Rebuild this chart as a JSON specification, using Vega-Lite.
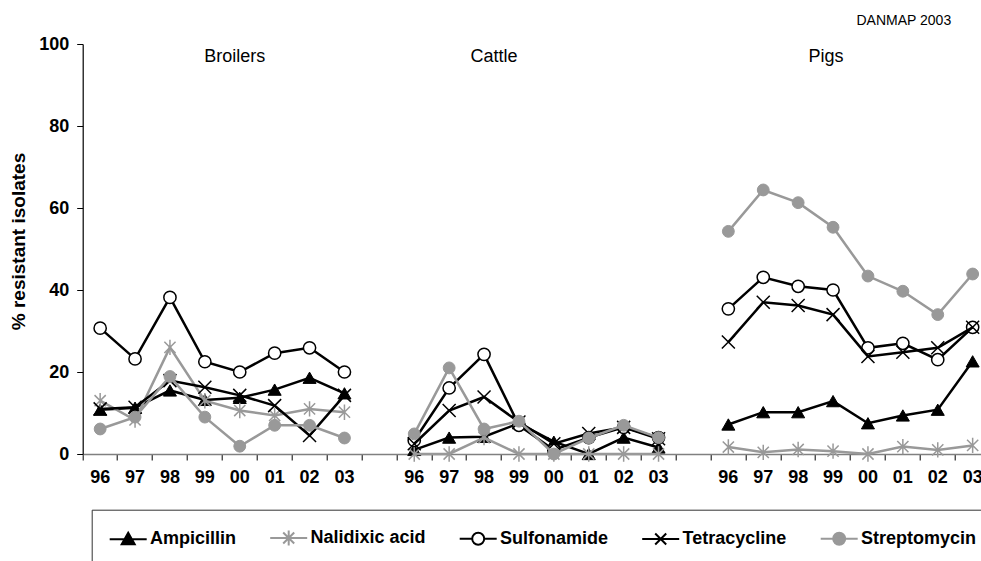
{
  "$schema": "https://vega.github.io/schema/vega-lite/v6.json",
  "width": 907.4,
  "height": 410,
  "autosize": {"type": "none"},
  "padding": {"left": 82.7, "top": 44, "right": -9.1, "bottom": 107},
  "background": "white",
  "config": {
    "view": {"stroke": null},
    "font": "Liberation Sans",
    "axisX": {
      "domainColor": "#808080",
      "domainWidth": 1.5,
      "tickColor": "#000000",
      "tickWidth": 1,
      "tickSize": 6,
      "labelFont": "Liberation Sans",
      "labelFontSize": 18,
      "labelFontWeight": "bold",
      "labelColor": "#000000",
      "labelPadding": 8,
      "labelAngle": 0,
      "grid": false
    },
    "axisY": {
      "domainColor": "#000000",
      "domainWidth": 1.2,
      "tickColor": "#000000",
      "tickWidth": 1,
      "tickSize": 6,
      "labelFont": "Liberation Sans",
      "labelFontSize": 18,
      "labelFontWeight": "bold",
      "labelColor": "#000000",
      "labelPadding": 8,
      "titleFont": "Liberation Sans",
      "titleFontSize": 19,
      "titleFontWeight": "bold",
      "titleColor": "#000000",
      "titlePadding": 10,
      "titleY": 197,
      "grid": false
    },
    "legend": {
      "orient": "none",
      "legendX": 9,
      "legendY": 465.7,
      "direction": "horizontal",
      "strokeColor": "#333333",
      "padding": 17,
      "columnPadding": 29.5,
      "symbolSize": 400,
      "symbolStrokeWidth": 2,
      "symbolOpacity": 1,
      "symbolFillColor": "#000000",
      "symbolStrokeColor": "#000000",
      "labelFont": "Liberation Sans",
      "labelFontSize": 18,
      "labelFontWeight": "bold",
      "labelColor": "#000000",
      "labelOffset": 19.3,
      "labelLimit": 0
    }
  },
  "data": {
    "values": [
      {"host": "Broilers", "slot": "Broilers 1996", "Ampicillin": 10.8, "Nalidixic acid": 13.0, "Sulfonamide": 30.7, "Tetracycline": 11.0, "Streptomycin": 6.1},
      {"host": "Broilers", "slot": "Broilers 1997", "Ampicillin": 11.3, "Nalidixic acid": 8.3, "Sulfonamide": 23.2, "Tetracycline": 11.4, "Streptomycin": 9.0},
      {"host": "Broilers", "slot": "Broilers 1998", "Ampicillin": 15.5, "Nalidixic acid": 26.0, "Sulfonamide": 38.2, "Tetracycline": 17.9, "Streptomycin": 18.9},
      {"host": "Broilers", "slot": "Broilers 1999", "Ampicillin": 13.2, "Nalidixic acid": 13.0, "Sulfonamide": 22.5, "Tetracycline": 16.3, "Streptomycin": 9.0},
      {"host": "Broilers", "slot": "Broilers 2000", "Ampicillin": 13.7, "Nalidixic acid": 10.6, "Sulfonamide": 20.0, "Tetracycline": 14.3, "Streptomycin": 1.9},
      {"host": "Broilers", "slot": "Broilers 2001", "Ampicillin": 15.7, "Nalidixic acid": 9.4, "Sulfonamide": 24.6, "Tetracycline": 11.8, "Streptomycin": 7.0},
      {"host": "Broilers", "slot": "Broilers 2002", "Ampicillin": 18.6, "Nalidixic acid": 11.0, "Sulfonamide": 25.9, "Tetracycline": 4.5, "Streptomycin": 7.0},
      {"host": "Broilers", "slot": "Broilers 2003", "Ampicillin": 14.8, "Nalidixic acid": 10.2, "Sulfonamide": 20.0, "Tetracycline": 14.3, "Streptomycin": 3.9},
      {"host": "Cattle", "slot": "Cattle 1996", "Ampicillin": 1.0, "Nalidixic acid": 0, "Sulfonamide": 3.3, "Tetracycline": 2.5, "Streptomycin": 4.9},
      {"host": "Cattle", "slot": "Cattle 1997", "Ampicillin": 4.0, "Nalidixic acid": 0, "Sulfonamide": 16.1, "Tetracycline": 10.6, "Streptomycin": 21.0},
      {"host": "Cattle", "slot": "Cattle 1998", "Ampicillin": 4.2, "Nalidixic acid": 4.0, "Sulfonamide": 24.3, "Tetracycline": 13.9, "Streptomycin": 6.1},
      {"host": "Cattle", "slot": "Cattle 1999", "Ampicillin": 7.5, "Nalidixic acid": 0, "Sulfonamide": 7.0, "Tetracycline": 7.8, "Streptomycin": 8.0},
      {"host": "Cattle", "slot": "Cattle 2000", "Ampicillin": 3.0, "Nalidixic acid": 0, "Sulfonamide": 1.0, "Tetracycline": 2.5, "Streptomycin": 0},
      {"host": "Cattle", "slot": "Cattle 2001", "Ampicillin": 0, "Nalidixic acid": 0, "Sulfonamide": 4.0, "Tetracycline": 5.0, "Streptomycin": 3.9},
      {"host": "Cattle", "slot": "Cattle 2002", "Ampicillin": 4.0, "Nalidixic acid": 0, "Sulfonamide": 6.5, "Tetracycline": 6.5, "Streptomycin": 7.0},
      {"host": "Cattle", "slot": "Cattle 2003", "Ampicillin": 1.6, "Nalidixic acid": 0, "Sulfonamide": 4.0, "Tetracycline": 3.7, "Streptomycin": 4.0},
      {"host": "Pigs", "slot": "Pigs 1996", "Ampicillin": 7.2, "Nalidixic acid": 1.7, "Sulfonamide": 35.4, "Tetracycline": 27.3, "Streptomycin": 54.3},
      {"host": "Pigs", "slot": "Pigs 1997", "Ampicillin": 10.2, "Nalidixic acid": 0.4, "Sulfonamide": 43.1, "Tetracycline": 37.0, "Streptomycin": 64.4},
      {"host": "Pigs", "slot": "Pigs 1998", "Ampicillin": 10.2, "Nalidixic acid": 1.1, "Sulfonamide": 40.9, "Tetracycline": 36.2, "Streptomycin": 61.3},
      {"host": "Pigs", "slot": "Pigs 1999", "Ampicillin": 12.9, "Nalidixic acid": 0.7, "Sulfonamide": 40.0, "Tetracycline": 34.0, "Streptomycin": 55.3},
      {"host": "Pigs", "slot": "Pigs 2000", "Ampicillin": 7.5, "Nalidixic acid": 0, "Sulfonamide": 25.9, "Tetracycline": 23.8, "Streptomycin": 43.4},
      {"host": "Pigs", "slot": "Pigs 2001", "Ampicillin": 9.4, "Nalidixic acid": 1.8, "Sulfonamide": 27.0, "Tetracycline": 24.8, "Streptomycin": 39.7},
      {"host": "Pigs", "slot": "Pigs 2002", "Ampicillin": 10.8, "Nalidixic acid": 1.0, "Sulfonamide": 23.0, "Tetracycline": 25.9, "Streptomycin": 34.0},
      {"host": "Pigs", "slot": "Pigs 2003", "Ampicillin": 22.6, "Nalidixic acid": 2.1, "Sulfonamide": 30.9, "Tetracycline": 30.9, "Streptomycin": 43.9}
    ]
  },
  "transform": [
    {"fold": ["Ampicillin", "Nalidixic acid", "Sulfonamide", "Tetracycline", "Streptomycin"], "as": ["drug", "pct"]}
  ],
  "encoding": {
    "x": {
      "field": "slot",
      "type": "ordinal",
      "scale": {
        "type": "band",
        "paddingInner": 0,
        "paddingOuter": 0,
        "domain": [
          "Broilers 1996", "Broilers 1997", "Broilers 1998", "Broilers 1999", "Broilers 2000", "Broilers 2001", "Broilers 2002", "Broilers 2003",
          "gap 1",
          "Cattle 1996", "Cattle 1997", "Cattle 1998", "Cattle 1999", "Cattle 2000", "Cattle 2001", "Cattle 2002", "Cattle 2003",
          "gap 2",
          "Pigs 1996", "Pigs 1997", "Pigs 1998", "Pigs 1999", "Pigs 2000", "Pigs 2001", "Pigs 2002", "Pigs 2003"
        ]
      },
      "axis": {
        "title": null,
        "bandPosition": 0,
        "labelExpr": "test(/gap/, datum.value) ? '' : slice(datum.value, -2)"
      }
    },
    "y": {
      "field": "pct",
      "type": "quantitative",
      "scale": {"domain": [0, 100], "nice": false, "zero": true},
      "axis": {"title": "% resistant isolates", "values": [0, 20, 40, 60, 80, 100]}
    }
  },
  "layer": [
    {
      "transform": [{"filter": {"field": "drug", "equal": "Ampicillin"}}],
      "layer": [
        {"mark": {"type": "line", "color": "#000000", "strokeWidth": 2.5}, "encoding": {"detail": {"field": "host"}}},
        {"mark": {"type": "point", "shape": "triangle-up", "filled": true, "fill": "#000000", "stroke": "#000000", "strokeWidth": 1, "size": 170, "opacity": 1}}
      ]
    },
    {
      "transform": [{"filter": {"field": "drug", "equal": "Nalidixic acid"}}],
      "layer": [
        {"mark": {"type": "line", "color": "#999999", "strokeWidth": 2.5}, "encoding": {"detail": {"field": "host"}}},
        {"mark": {"type": "point", "shape": "M-0.8,-0.8L0.8,0.8M-0.8,0.8L0.8,-0.8M0,-1.1V1.1", "filled": false, "stroke": "#999999", "strokeWidth": 1.5, "size": 196, "opacity": 1}}
      ]
    },
    {
      "transform": [{"filter": {"field": "drug", "equal": "Sulfonamide"}}],
      "layer": [
        {"mark": {"type": "line", "color": "#000000", "strokeWidth": 2.5}, "encoding": {"detail": {"field": "host"}}},
        {"mark": {"type": "point", "shape": "circle", "filled": true, "fill": "#ffffff", "stroke": "#000000", "strokeWidth": 1.5, "size": 150, "opacity": 1}}
      ]
    },
    {
      "transform": [{"filter": {"field": "drug", "equal": "Tetracycline"}}],
      "layer": [
        {"mark": {"type": "line", "color": "#000000", "strokeWidth": 2.5}, "encoding": {"detail": {"field": "host"}}},
        {"mark": {"type": "point", "shape": "M-1,-1L1,1M-1,1L1,-1", "filled": false, "stroke": "#000000", "strokeWidth": 1.5, "size": 169, "opacity": 1}}
      ]
    },
    {
      "transform": [{"filter": {"field": "drug", "equal": "Streptomycin"}}],
      "layer": [
        {"mark": {"type": "line", "color": "#999999", "strokeWidth": 2.5}, "encoding": {"detail": {"field": "host"}}},
        {"mark": {"type": "point", "shape": "circle", "filled": true, "fill": "#999999", "stroke": "#999999", "strokeWidth": 1, "size": 140, "opacity": 1}}
      ]
    },
    {
      "mark": {"type": "point", "opacity": 0, "strokeWidth": 2},
      "encoding": {
        "shape": {
          "field": "drug",
          "type": "nominal",
          "scale": {
            "domain": ["Ampicillin", "Nalidixic acid", "Sulfonamide", "Tetracycline", "Streptomycin"],
            "range": [
              "M-1,0H2.7M0.85,-0.65L1.5,0.5L0.2,0.5Z",
              "M-1,0H2.7M0.3,-0.55L1.4,0.55M0.3,0.55L1.4,-0.55M0.85,-0.75V0.75",
              "M-1,0H0.25M1.45,0H2.7M1.45,0A0.6,0.6,0,1,1,0.25,0A0.6,0.6,0,1,1,1.45,0Z",
              "M-1,0H2.7M0.3,-0.55L1.4,0.55M0.3,0.55L1.4,-0.55",
              "M-1,0H2.7M1.45,0A0.6,0.6,0,1,1,0.25,0A0.6,0.6,0,1,1,1.45,0Z"
            ]
          },
          "legend": {"title": null}
        },
        "fill": {
          "field": "drug",
          "type": "nominal",
          "scale": {
            "domain": ["Ampicillin", "Nalidixic acid", "Sulfonamide", "Tetracycline", "Streptomycin"],
            "range": ["#000000", "transparent", "#ffffff", "transparent", "#999999"]
          },
          "legend": {"title": null}
        },
        "stroke": {
          "field": "drug",
          "type": "nominal",
          "scale": {
            "domain": ["Ampicillin", "Nalidixic acid", "Sulfonamide", "Tetracycline", "Streptomycin"],
            "range": ["#000000", "#999999", "#000000", "#000000", "#999999"]
          },
          "legend": {"title": null}
        }
      }
    },
    {
      "transform": [{"filter": "datum.slot === 'Broilers 2000' && datum.drug === 'Ampicillin'"}],
      "mark": {"type": "text", "text": "Broilers", "font": "Liberation Sans", "fontSize": 18, "color": "#000000", "align": "center", "baseline": "middle", "dx": -5},
      "encoding": {"y": {"datum": 96.8, "type": "quantitative", "axis": {"title": "% resistant isolates", "values": [0, 20, 40, 60, 80, 100]}}}
    },
    {
      "transform": [{"filter": "datum.slot === 'Cattle 1998' && datum.drug === 'Ampicillin'"}],
      "mark": {"type": "text", "text": "Cattle", "font": "Liberation Sans", "fontSize": 18, "color": "#000000", "align": "center", "baseline": "middle", "dx": 10},
      "encoding": {"y": {"datum": 96.8, "type": "quantitative", "axis": {"title": "% resistant isolates", "values": [0, 20, 40, 60, 80, 100]}}}
    },
    {
      "transform": [{"filter": "datum.slot === 'Pigs 1999' && datum.drug === 'Ampicillin'"}],
      "mark": {"type": "text", "text": "Pigs", "font": "Liberation Sans", "fontSize": 18, "color": "#000000", "align": "center", "baseline": "middle", "dx": -7},
      "encoding": {"y": {"datum": 96.8, "type": "quantitative", "axis": {"title": "% resistant isolates", "values": [0, 20, 40, 60, 80, 100]}}}
    },
    {
      "transform": [{"filter": "datum.slot === 'Pigs 2001' && datum.drug === 'Ampicillin'"}],
      "mark": {"type": "text", "text": "DANMAP 2003", "font": "Liberation Sans", "fontSize": 14, "color": "#000000", "align": "center", "baseline": "middle", "dx": 1},
      "encoding": {"y": {"datum": 105.7, "type": "quantitative", "axis": {"title": "% resistant isolates", "values": [0, 20, 40, 60, 80, 100]}}}
    }
  ]
}
